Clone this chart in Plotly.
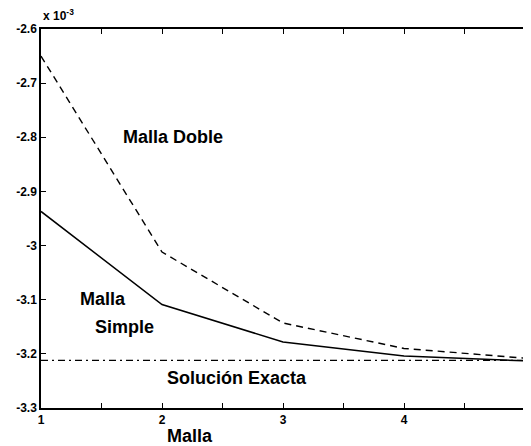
import plotly.graph_objects as go

malla = [1, 2, 3, 4, 5]
malla_doble = [-2.650, -3.012, -3.143, -3.190, -3.208]
malla_simple = [-2.937, -3.109, -3.178, -3.204, -3.213]
solucion_exacta = [-3.212, -3.212]
exacta_x = [1, 5.1]
y_ticks = [-2.6, -2.7, -2.8, -2.9, -3.0, -3.1, -3.2, -3.3]
y_labels = ["-2.6", "-2.7", "-2.8", "-2.9", "-3", "-3.1", "-3.2", "-3.3"]
x_ticks = [1, 2, 3, 4]
x_labels = ["1", "2", "3", "4"]

FONT = "Liberation Sans, Arial, sans-serif"

fig = go.Figure()
fig.add_trace(go.Scatter(x=malla, y=malla_doble, mode="lines",
                         line=dict(color="black", width=1.4, dash="7px,5px"),
                         name="Malla Doble"))
fig.add_trace(go.Scatter(x=malla, y=malla_simple, mode="lines",
                         line=dict(color="black", width=1.5),
                         name="Malla Simple"))
fig.add_trace(go.Scatter(x=exacta_x, y=solucion_exacta, mode="lines",
                         line=dict(color="black", width=1.2, dash="7px,4px,2px,4px"),
                         name="Solución Exacta"))

ann_font = dict(family=FONT, size=18, color="black")
fig.add_annotation(x=2.09, y=-2.80, text="<b>Malla Doble</b>", showarrow=False, font=ann_font)
fig.add_annotation(x=1.51, y=-3.099, text="<b>Malla</b>", showarrow=False, font=ann_font)
fig.add_annotation(x=1.69, y=-3.15, text="<b>Simple</b>", showarrow=False, font=ann_font)
fig.add_annotation(x=2.62, y=-3.245, text="<b>Solución Exacta</b>", showarrow=False, font=ann_font)
fig.add_annotation(xref="paper", yref="paper", x=0.301, y=-0.074, xanchor="center", yanchor="middle",
                   text="<b>Malla</b>", showarrow=False, font=ann_font)
fig.add_annotation(xref="paper", yref="paper", x=0.0, y=1.0, xanchor="left", yanchor="bottom",
                   yshift=4, text="<b>x 10<sup>-3</sup></b>", showarrow=False,
                   font=dict(family=FONT, size=12, color="black"))

axis_common = dict(showgrid=False, zeroline=False, showline=True, linecolor="black",
                   linewidth=1.5, mirror="ticks", ticks="inside", ticklen=5,
                   tickcolor="black", tickwidth=1,
                   tickfont=dict(family=FONT, size=12, color="black"))

fig.update_xaxes(range=[1, 5.099], tickvals=x_ticks, ticktext=[f"<b>{t}</b>" for t in x_labels],
                 minor=dict(dtick=0.5, tick0=1, ticks="inside", ticklen=5, tickcolor="black"),
                 **axis_common)
fig.update_yaxes(range=[-3.3, -2.6], tickvals=y_ticks, ticktext=[f"<b>{t}</b>" for t in y_labels],
                 **axis_common)

fig.update_layout(width=531, height=438, showlegend=False,
                  plot_bgcolor="white", paper_bgcolor="white",
                  margin=dict(l=33, r=0, t=21, b=38))

fig.write_html("out.html")
